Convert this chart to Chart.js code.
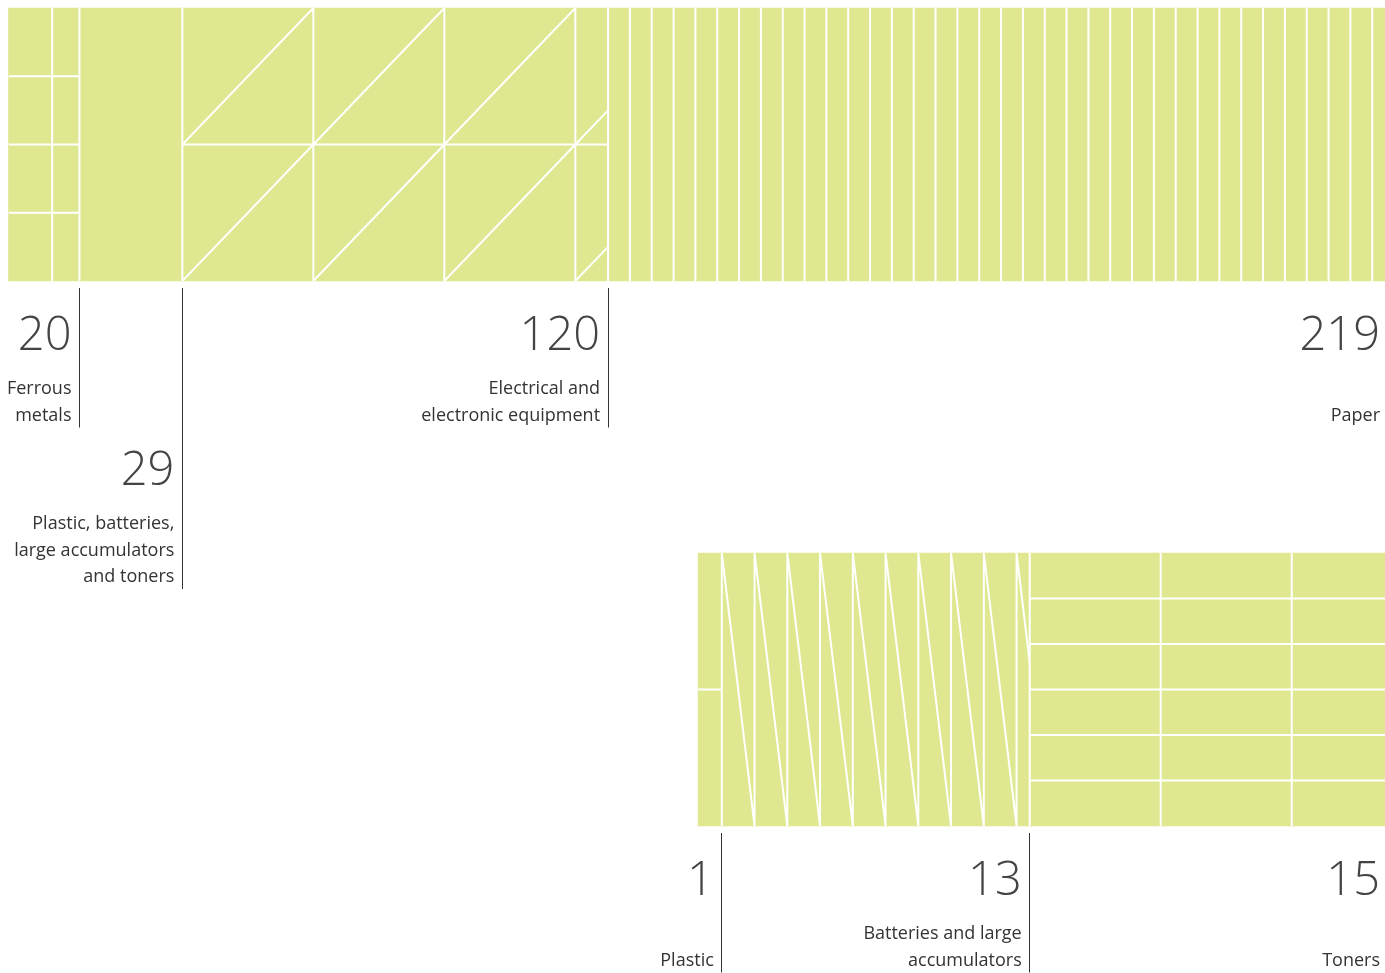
<!DOCTYPE html>
<html>
<head>
<meta charset="utf-8">
<script src="https://cdn.jsdelivr.net/npm/chart.js@4.4.1/dist/chart.umd.min.js"></script>
<style>
  html, body { margin: 0; padding: 0; background: #ffffff; }
  canvas { display: block; }
</style>
</head>
<body>
<canvas id="c" width="1385" height="973"></canvas>
<script>
// ---- data ----
const rowLabels = ['All collected waste', 'Plastic, batteries, large accumulators and toners'];

const totalCategories = [
  ['Ferrous', 'metals'],
  ['Plastic, batteries,', 'large accumulators', 'and toners'],
  ['Electrical and', 'electronic equipment'],
  ['Paper']
];
const totalValues = [20, 29, 120, 219];

const detailCategories = [
  ['Plastic'],
  ['Batteries and large', 'accumulators'],
  ['Toners']
];
const detailValues = [1, 13, 15];

// ---- styles ----
const FILL = '#dfe891';
const UNIT = 131;           // pattern cell width in px
const totalPatterns = ['ferrous', 'solid', 'electrical', 'paper'];
const detailPatterns = ['plastic', 'batteries', 'toners'];
const totalDrops = [0, 135, 0, 0];
const detailDrops = [0, 0, 0];

const detailSum = detailValues.reduce((a, b) => a + b, 0);
const totalSum = totalValues.reduce((a, b) => a + b, 0);

const datasets = [];
totalValues.forEach((v, i) => {
  datasets.push({
    label: totalCategories[i].join(' '),
    data: [v, null],
    xAxisID: 'x',
    stack: 's',
    backgroundColor: FILL,
    borderWidth: 0,
    barThickness: 273,
    clip: false,
    pattern: totalPatterns[i],
    separator: i > 0,
    labelLines: totalCategories[i],
    labelDrop: totalDrops[i]
  });
});
detailValues.forEach((v, i) => {
  datasets.push({
    label: detailCategories[i].join(' '),
    data: [null, v],
    xAxisID: 'x2',
    stack: 's',
    backgroundColor: FILL,
    borderWidth: 0,
    barThickness: 273,
    clip: false,
    pattern: detailPatterns[i],
    separator: i > 0,
    labelLines: detailCategories[i],
    labelDrop: detailDrops[i]
  });
});

// ---- pattern drawing ----
function vlines(ctx, r, step) {
  for (let x = r.l + step; x < r.r - 0.5; x += step) {
    ctx.moveTo(x, r.t); ctx.lineTo(x, r.b);
  }
}
function hlines(ctx, r, rows) {
  const h = (r.b - r.t) / rows;
  for (let k = 1; k < rows; k++) {
    ctx.moveTo(r.l, r.t + k * h); ctx.lineTo(r.r, r.t + k * h);
  }
}
const PATTERNS = {
  solid() {},
  ferrous(ctx, r) { vlines(ctx, r, UNIT / 3); hlines(ctx, r, 4); },
  electrical(ctx, r) {
    vlines(ctx, r, UNIT); hlines(ctx, r, 2);
    const h = (r.b - r.t) / 2;
    for (let x = r.l; x < r.r; x += UNIT) {
      for (let k = 0; k < 2; k++) {
        const t = r.t + k * h;
        ctx.moveTo(x, t + h); ctx.lineTo(x + UNIT, t);
      }
    }
  },
  paper(ctx, r) { vlines(ctx, r, UNIT / 6); },
  plastic(ctx, r) { hlines(ctx, r, 2); },
  batteries(ctx, r) {
    const s = UNIT / 4;
    vlines(ctx, r, s);
    for (let x = r.l; x < r.r; x += s) {
      ctx.moveTo(x, r.t); ctx.lineTo(x + s, r.b);
    }
  },
  toners(ctx, r) { vlines(ctx, r, UNIT); hlines(ctx, r, 6); }
};

function barRect(el) {
  const p = el.getProps(['x', 'base', 'y', 'height'], true);
  return { l: Math.min(p.x, p.base), r: Math.max(p.x, p.base), t: p.y - p.height / 2, b: p.y + p.height / 2 };
}

const patternPlugin = {
  id: 'patterns',
  afterDatasetsDraw(chart) {
    const ctx = chart.ctx;
    chart.data.datasets.forEach((ds, i) => {
      const meta = chart.getDatasetMeta(i);
      meta.data.forEach((el, j) => {
        if (ds.data[j] == null) return;
        const r = barRect(el);
        ctx.save();
        ctx.beginPath();
        ctx.rect(r.l, r.t, r.r - r.l, r.b - r.t);
        ctx.clip();
        ctx.strokeStyle = '#ffffff';
        ctx.lineWidth = 2;
        ctx.beginPath();
        PATTERNS[ds.pattern](ctx, r);
        ctx.stroke();
        ctx.restore();
        if (ds.separator) {
          ctx.save();
          ctx.strokeStyle = '#ffffff';
          ctx.lineWidth = 2;
          ctx.beginPath();
          ctx.moveTo(r.l, r.t); ctx.lineTo(r.l, r.b);
          ctx.stroke();
          ctx.restore();
        }
      });
    });
  }
};

const LINE_H = 26.5;
const labelPlugin = {
  id: 'segLabels',
  afterDraw(chart) {
    const ctx = chart.ctx;
    chart.data.datasets.forEach((ds, i) => {
      const meta = chart.getDatasetMeta(i);
      const j = ds.data.findIndex(v => v != null);
      const r = barRect(meta.data[j]);
      const isLast = r.r >= chart.chartArea.right - 1;
      const nb = r.b + 69 + (ds.labelDrop || 0);
      const tx = r.r - (isLast ? 5 : 8);
      ctx.save();
      ctx.textAlign = 'right';
      ctx.textBaseline = 'alphabetic';
      ctx.fillStyle = '#444444';
      ctx.font = '300 47px "Open Sans"';
      ctx.fillText(String(ds.data[j]), tx, nb);
      ctx.fillStyle = '#333333';
      ctx.font = '400 18px "Open Sans"';
      const lines = ds.labelLines;
      const y0 = nb + 44 + (lines.length === 1 ? LINE_H : 0);
      lines.forEach((ln, k) => ctx.fillText(ln, tx, y0 + k * LINE_H));
      const last = y0 + (lines.length - 1) * LINE_H;
      if (!isLast) {
        const lx = Math.floor(r.r) + 0.5;
        ctx.strokeStyle = '#333333';
        ctx.lineWidth = 1;
        ctx.beginPath();
        ctx.moveTo(lx, r.b + 7);
        ctx.lineTo(lx, last + 7);
        ctx.stroke();
      }
      ctx.restore();
    });
  }
};

new Chart(document.getElementById('c'), {
  type: 'bar',
  data: { labels: rowLabels, datasets },
  options: {
    indexAxis: 'y',
    responsive: false,
    animation: false,
    events: [],
    layout: { padding: { left: 8.5, right: 0, top: 144.5, bottom: 283.5 } },
    plugins: { legend: { display: false }, tooltip: { enabled: false } },
    scales: {
      x: { type: 'linear', display: false, stacked: true, min: 0, max: totalSum },
      x2: { type: 'linear', display: false, stacked: true, min: -detailSum * 1.004, max: detailSum },
      y: { type: 'category', display: false, stacked: true, offset: false }
    }
  },
  plugins: [patternPlugin, labelPlugin]
});
</script>
</body>
</html>
